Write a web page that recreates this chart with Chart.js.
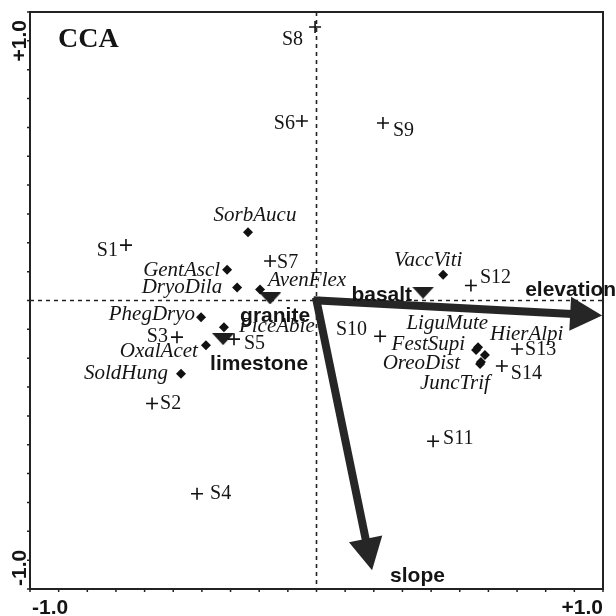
<!DOCTYPE html>
<html>
<head>
<meta charset="utf-8">
<title>CCA</title>
<script src="https://cdn.jsdelivr.net/npm/chart.js@4.4.0/dist/chart.umd.min.js"></script>
<style>
  html, body { margin: 0; padding: 0; background: #fff; }
</style>
</head>
<body>
<canvas id="ccaChart" width="616" height="616"></canvas>
<script>
// Sites (plotted as +)
const siteNames = ['S1', 'S2', 'S3', 'S4', 'S5', 'S6', 'S7', 'S8', 'S9', 'S10', 'S11', 'S12', 'S13', 'S14'];
const siteX = [-0.665, -0.574, -0.487, -0.417, -0.288, -0.051, -0.162, -0.005, 0.232, 0.222, 0.407, 0.539, 0.700, 0.647];
const siteY = [0.192, -0.357, -0.127, -0.670, -0.134, 0.622, 0.137, 0.948, 0.615, -0.124, -0.488, 0.052, -0.168, -0.227];

// Species (plotted as diamonds)
const speciesNames = ['SorbAucu', 'GentAscl', 'DryoDila', 'AvenFlex', 'PhegDryo', 'PiceAbie', 'OxalAcet', 'SoldHung',
    'VaccViti', 'LiguMute', 'FestSupi', 'HierAlpi', 'OreoDist', 'JuncTrif'];
const speciesX = [-0.239, -0.312, -0.277, -0.197, -0.403, -0.323, -0.386, -0.473, 0.442, 0.564, 0.557, 0.588, 0.571, 0.574];
const speciesY = [0.237, 0.107, 0.045, 0.038, -0.058, -0.093, -0.155, -0.254, 0.089, -0.162, -0.172, -0.189, -0.220, -0.213];

// Nominal environmental variables (centroids, triangles)
const nominalNames = ['granite', 'limestone', 'basalt'];
const nominalX = [-0.162, -0.326, 0.372];
const nominalY = [0.007, -0.134, 0.027];

// Quantitative environmental variables (arrows)
const arrowNames = ['elevation', 'slope'];
const arrowX = [0.997, 0.194];
const arrowY = [-0.052, -0.935];

// Axes
const axisMin = -1;
const axisMax = 1;
const tickStep = 0.1;
const tickLabels = ['-1.0', '+1.0'];

// Label placement (dx, dy in pixels, text align)
const siteLabelPos = [
    [-8, 11, 'right'], [8, 6, 'left'], [-9, 5, 'right'], [13, 5, 'left'], [10, 10, 'left'],
    [-7, 8, 'right'], [7, 7, 'left'], [-12, 18, 'right'], [10, 13, 'left'], [-13, -1, 'right'],
    [10, 3, 'left'], [9, -2, 'left'], [8, 6, 'left'], [9, 13, 'left']
];
const speciesLabelPos = [
    [7, -11, 'center'], [-7, 6, 'right'], [-15, 5, 'right'], [8, -4, 'left'], [-6, 3, 'right'],
    [15, 5, 'left'], [-8, 12, 'right'], [-13, 5, 'right'], [-15, -9, 'center'], [10, -18, 'right'],
    [-11, 0, 'right'], [5, -15, 'left'], [-20, 5, 'right'], [9, 27, 'right']
];
const nominalLabelPos = [[5, 24, 'center'], [-13, 31, 'left'], [-11, 8, 'right']];
const arrowLabelPos = [[-77, -20, 'left'], [18, 12, 'left']];

const toPoints = (xs, ys) => xs.map((v, i) => ({ x: v, y: ys[i] }));

// Flat down-pointing triangle used as point style for the nominal variables
const triangleImg = document.createElement('canvas');
triangleImg.width = 22;
triangleImg.height = 12;
(function () {
    const c = triangleImg.getContext('2d');
    c.fillStyle = '#1e1e1e';
    c.beginPath();
    c.moveTo(0, 0);
    c.lineTo(22, 0);
    c.lineTo(11, 12);
    c.closePath();
    c.fill();
})();

function drawLabels(ctx, meta, names, pos, font) {
    ctx.font = font;
    meta.data.forEach((pt, i) => {
        const [dx, dy, align] = pos[i];
        ctx.textAlign = align;
        ctx.fillText(names[i], pt.x + dx, pt.y + dy);
    });
}

const ccaDecor = {
    id: 'ccaDecor',
    beforeDatasetsDraw(chart) {
        const { ctx, chartArea: a, scales: { x, y } } = chart;
        const x0 = x.getPixelForValue(0);
        const y0 = y.getPixelForValue(0);
        ctx.save();

        // dashed zero lines
        ctx.strokeStyle = '#222';
        ctx.lineWidth = 1.6;
        ctx.setLineDash([4, 4]);
        ctx.beginPath();
        ctx.moveTo(x0, a.top);
        ctx.lineTo(x0, a.bottom);
        ctx.moveTo(a.left, y0);
        ctx.lineTo(a.right, y0);
        ctx.stroke();
        ctx.setLineDash([]);

        // frame
        ctx.lineWidth = 2;
        ctx.strokeRect(a.left, a.top, a.width, a.height);

        // small outward ticks on bottom and left
        ctx.lineWidth = 1.5;
        ctx.beginPath();
        const n = Math.round((axisMax - axisMin) / tickStep);
        for (let i = 0; i <= n; i++) {
            const v = axisMin + i * tickStep;
            const px = x.getPixelForValue(v);
            const py = y.getPixelForValue(v);
            ctx.moveTo(px, a.bottom);
            ctx.lineTo(px, a.bottom + 3);
            ctx.moveTo(a.left, py);
            ctx.lineTo(a.left - 3, py);
        }
        ctx.stroke();

        // arrows
        ctx.fillStyle = '#262626';
        ctx.strokeStyle = '#262626';
        arrowX.forEach((v, i) => {
            const tx = x.getPixelForValue(v);
            const ty = y.getPixelForValue(arrowY[i]);
            const ang = Math.atan2(ty - y0, tx - x0);
            const headLen = 32, headHalf = 17;
            const bx = tx - Math.cos(ang) * headLen;
            const by = ty - Math.sin(ang) * headLen;
            ctx.lineWidth = 8;
            ctx.lineCap = 'butt';
            ctx.beginPath();
            ctx.moveTo(x0 - Math.cos(ang) * 3, y0 - Math.sin(ang) * 3);
            ctx.lineTo(bx + Math.cos(ang) * 2, by + Math.sin(ang) * 2);
            ctx.stroke();
            ctx.beginPath();
            ctx.moveTo(tx, ty);
            ctx.lineTo(bx - Math.sin(ang) * headHalf, by + Math.cos(ang) * headHalf);
            ctx.lineTo(bx + Math.sin(ang) * headHalf, by - Math.cos(ang) * headHalf);
            ctx.closePath();
            ctx.fill();
        });
        ctx.restore();
    },
    afterDatasetsDraw(chart) {
        const { ctx, scales: { x, y } } = chart;
        ctx.save();
        ctx.fillStyle = '#141414';
        ctx.textBaseline = 'alphabetic';
        drawLabels(ctx, chart.getDatasetMeta(0), siteNames, siteLabelPos, '20px "Liberation Serif"');
        drawLabels(ctx, chart.getDatasetMeta(1), speciesNames, speciesLabelPos, 'italic 21px "Liberation Serif"');
        drawLabels(ctx, chart.getDatasetMeta(2), nominalNames, nominalLabelPos, 'bold 21px "Liberation Sans"');

        ctx.font = 'bold 21px "Liberation Sans"';
        arrowNames.forEach((name, i) => {
            const [dx, dy, align] = arrowLabelPos[i];
            ctx.textAlign = align;
            ctx.fillText(name, x.getPixelForValue(arrowX[i]) + dx, y.getPixelForValue(arrowY[i]) + dy);
        });
        ctx.restore();
    },
    afterDraw(chart) {
        const { ctx, chartArea: a, scales: { x, y } } = chart;
        ctx.save();
        ctx.fillStyle = '#141414';

        // title
        ctx.font = 'bold 28px "Liberation Serif"';
        ctx.textAlign = 'left';
        ctx.fillText('CCA', 58, 47);

        // axis end labels
        ctx.font = 'bold 21px "Liberation Sans"';
        ctx.textAlign = 'left';
        ctx.fillText(tickLabels[0], x.getPixelForValue(axisMin) + 2, 614);
        ctx.textAlign = 'right';
        ctx.fillText(tickLabels[1], x.getPixelForValue(axisMax), 614);

        ctx.save();
        ctx.translate(a.left - 4, y.getPixelForValue(axisMin) - 3);
        ctx.rotate(-Math.PI / 2);
        ctx.textAlign = 'left';
        ctx.fillText(tickLabels[0], 0, 0);
        ctx.restore();

        ctx.save();
        ctx.translate(a.left - 4, y.getPixelForValue(axisMax) + 8);
        ctx.rotate(-Math.PI / 2);
        ctx.textAlign = 'right';
        ctx.fillText(tickLabels[1], 0, 0);
        ctx.restore();

        ctx.restore();
    }
};

new Chart(document.getElementById('ccaChart'), {
    type: 'scatter',
    data: {
        datasets: [
            {
                label: 'sites',
                data: toPoints(siteX, siteY),
                pointStyle: 'cross',
                pointRadius: 6,
                pointHoverRadius: 6,
                borderColor: '#111',
                borderWidth: 1.6
            },
            {
                label: 'species',
                data: toPoints(speciesX, speciesY),
                pointStyle: 'rectRot',
                pointRadius: 5,
                pointHoverRadius: 5,
                backgroundColor: '#111',
                borderColor: '#111',
                borderWidth: 0
            },
            {
                label: 'nominal',
                data: toPoints(nominalX, nominalY),
                pointStyle: triangleImg,
                pointRadius: 11,
                pointHoverRadius: 11
            }
        ]
    },
    options: {
        responsive: false,
        animation: false,
        devicePixelRatio: 1,
        layout: { padding: { left: 30, right: 13, top: 7, bottom: 27 } },
        plugins: {
            legend: { display: false },
            tooltip: { enabled: false }
        },
        scales: {
            x: { type: 'linear', min: axisMin, max: axisMax, display: false },
            y: { type: 'linear', min: axisMin, max: axisMax, display: false }
        }
    },
    plugins: [ccaDecor]
});
</script>
</body>
</html>
